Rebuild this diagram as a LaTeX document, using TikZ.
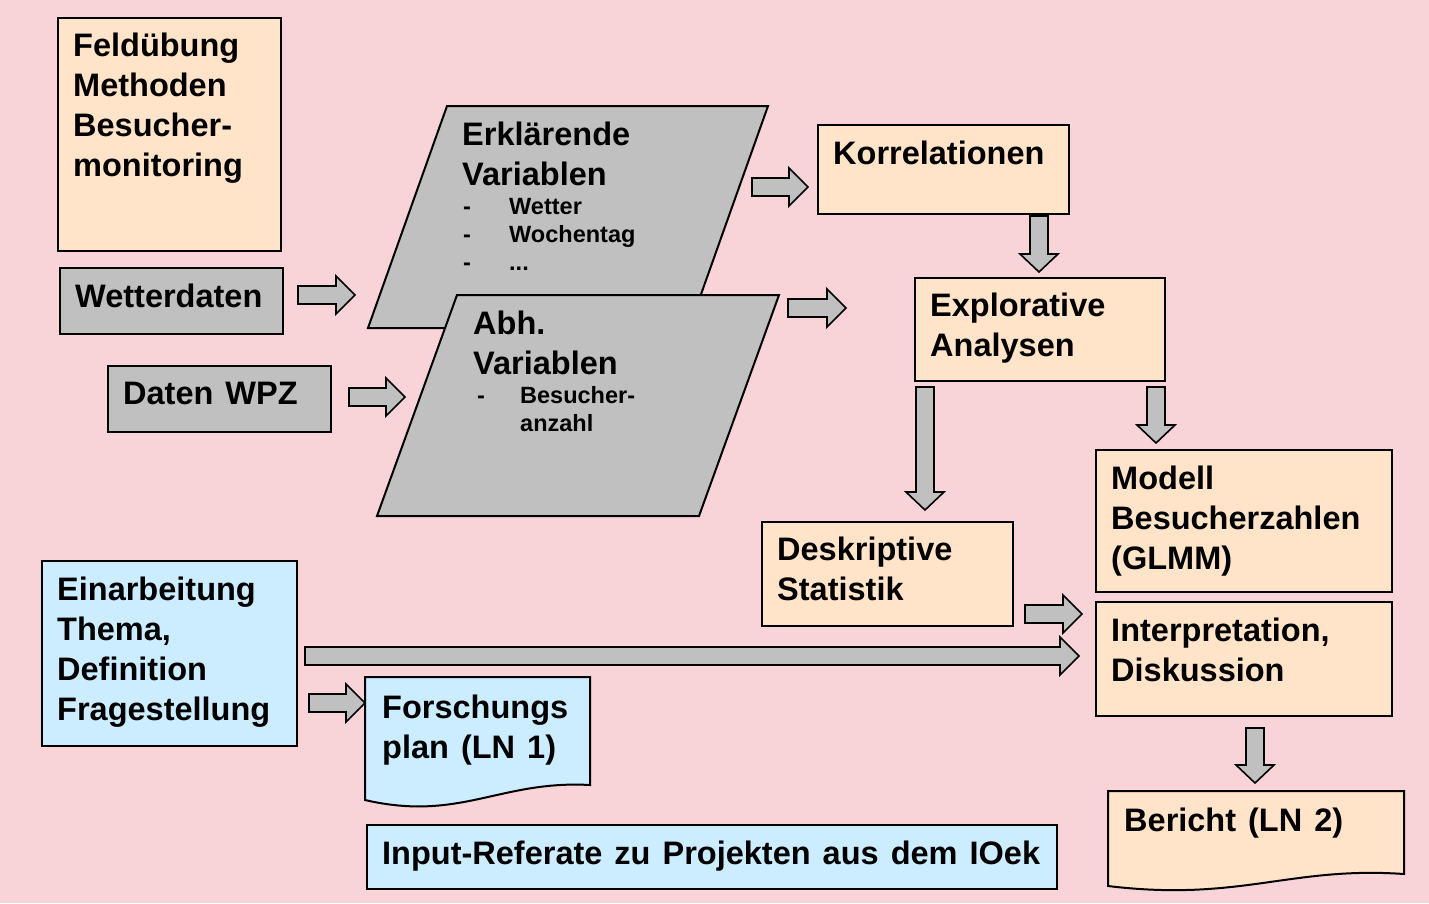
\documentclass[tikz,border=0pt]{standalone}
\usepackage{fontspec}
\setmainfont{Liberation Sans}
\definecolor{bgpink}{HTML}{F8D3D8}
\definecolor{peach}{HTML}{FFE4CA}
\definecolor{lblue}{HTML}{CCECFF}
\definecolor{greyfill}{HTML}{C0C0C0}
\newcommand\widesp{\spaceskip=0.37em\relax}
\newcommand\blockR[3]{\draw[blk] (#1,{#3-9}) -- ({#2-19},{#3-9}) -- ({#2-19},{#3-19}) -- (#2,#3) -- ({#2-19},{#3+19}) -- ({#2-19},{#3+9}) -- (#1,{#3+9}) -- cycle;}
\newcommand\blockD[3]{\draw[blk] ({#1-9},#2) -- ({#1-9},{#3-18}) -- ({#1-19},{#3-18}) -- (#1,#3) -- ({#1+19},{#3-18}) -- ({#1+9},{#3-18}) -- ({#1+9},#2) -- cycle;}
\begin{document}
\begin{tikzpicture}[x=1pt,y=-1pt,
  box/.style={draw=black,line width=2pt,inner sep=0pt,anchor=north west},
  blk/.style={draw=black,line width=1.6pt,fill=greyfill,line join=miter},
  big/.style={anchor=north west,inner sep=0pt,align=left,font=\fontsize{32.5}{40}\selectfont\bfseries,execute at begin node=\widesp},
  small/.style={anchor=north west,inner sep=0pt,align=left,font=\fontsize{23.5}{28}\selectfont\bfseries},
  par/.style={draw=black,line width=2pt,fill=greyfill,line join=miter}]
\useasboundingbox (0,0) rectangle (1429,903);
\fill[bgpink] (0,0) rectangle (1429,903);

% left boxes
\node[box,fill=peach,minimum width=223pt,minimum height=233pt] (feld) at (57,17) {};
\node[big] (feldt) at (73,28) {\strut Feldübung\\Methoden\\Besucher-\\monitoring};
\node[box,fill=greyfill,minimum width=223pt,minimum height=66pt] (wetter) at (59,267) {};
\node[big] (wettert) at (75,279) {\strut Wetterdaten};
\node[box,fill=greyfill,minimum width=223pt,minimum height=66pt] (wpz) at (107,365) {};
\node[big] (wpzt) at (123,376) {\strut Daten WPZ};

% parallelograms
\draw[par] (447,106) coordinate (p1a) -- (768,106) -- (689,328) -- (368,328) -- cycle;
\node[big] (erkt) at (462,117) {\strut Erklärende\\Variablen};
\node[small] (erkl) at (463,195) {\strut\makebox[46pt][l]{-}Wetter\\\makebox[46pt][l]{-}Wochentag\\\makebox[46pt][l]{-}...};
\draw[par] (457,295) coordinate (p2a) -- (779,295) -- (699,516) -- (377,516) -- cycle;
\node[big] (abht) at (473,306) {\strut Abh.\\Variablen};
\node[small] (abhl) at (477,384) {\strut\makebox[43pt][l]{-}Besucher-\\\makebox[43pt][l]{}anzahl};

% right boxes
\node[box,fill=peach,minimum width=251pt,minimum height=89pt] (korr) at (817,124) {};
\node[big] (korrt) at (833,136) {\strut Korrelationen};
\node[box,fill=peach,minimum width=250pt,minimum height=103pt] (expl) at (914,277) {};
\node[big] (explt) at (930,288) {\strut Explorative\\Analysen};
\node[box,fill=peach,minimum width=296pt,minimum height=142pt] (mod) at (1095,449) {};
\node[big] (modt) at (1111,461) {\strut Modell\\Besucherzahlen\\(GLMM)};
\node[box,fill=peach,minimum width=251pt,minimum height=104pt] (desk) at (761,521) {};
\node[big] (deskt) at (777,532) {\strut Deskriptive\\Statistik};
\node[box,fill=peach,minimum width=296pt,minimum height=114pt] (interp) at (1095,601) {};
\node[big] (interpt) at (1111,613) {\strut Interpretation,\\Diskussion};

% blue boxes
\node[box,fill=lblue,minimum width=255pt,minimum height=185pt] (einarb) at (41,560) {};
\node[big] (einarbt) at (57,572) {\strut Einarbeitung\\Thema,\\Definition\\Fragestellung};
\draw[line width=2pt,fill=lblue] (365,677) coordinate (forsch) -- (590,677) -- (590,785) .. controls (500,780) and (460,822) .. (365,800) -- cycle;
\node[big] (forscht) at (382,690) {\strut Forschungs\\plan (LN 1)};
\node[box,fill=lblue,minimum width=690pt,minimum height=64pt] (input) at (366,824) {};
\node[big] (inputt) at (382,836) {\strut Input-Referate zu Projekten aus dem IOek};
\draw[line width=2pt,fill=peach] (1108,791) coordinate (ber) -- (1404,791) -- (1404,874) .. controls (1290,866) and (1240,902) .. (1108,886) -- cycle;
\node[big] (bert) at (1124,803) {\strut Bericht (LN 2)};

% block arrows
\blockR{298}{355}{295}
\blockR{349}{405}{397}
\blockR{752}{808}{187}
\blockR{788}{846}{308}
\blockR{1025}{1082}{614}
\blockR{305}{1079}{656}
\blockR{309}{365}{703}
\blockD{1039}{216}{272}
\blockD{925}{387}{510}
\blockD{1156}{387}{443}
\blockD{1255}{728}{783}
\end{tikzpicture}
\end{document}
